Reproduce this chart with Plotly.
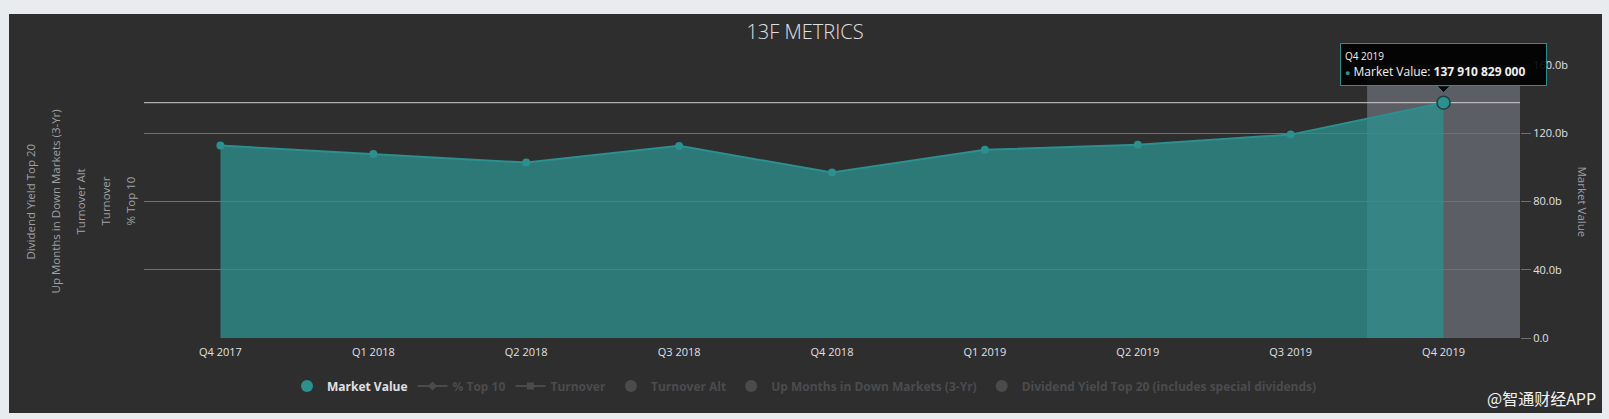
import plotly.graph_objects as go

# ---- data ----
categories = ["Q4 2017", "Q1 2018", "Q2 2018", "Q3 2018", "Q4 2018",
              "Q1 2019", "Q2 2019", "Q3 2019", "Q4 2019"]
market_value = [112.8e9, 107.9e9, 102.8e9, 112.6e9, 97.0e9,
                110.3e9, 113.2e9, 119.2e9, 137910829000]
ytick_vals = [0, 40e9, 80e9, 120e9, 160e9]
ytick_text = ["0.0", "40.0b", "80.0b", "120.0b", "160.0b"]
hidden_series = ["% Top 10", "Turnover", "Turnover Alt",
                 "Up Months in Down Markets (3-Yr)",
                 "Dividend Yield Top 20 (includes special dividends)"]
hidden_modes = ["lines+markers", "lines+markers", "markers", "markers", "markers"]
hidden_symbols = ["diamond", "square", "circle", "circle", "circle"]
left_axis_titles = ["Dividend Yield Top 20", "Up Months in Down Markets (3-Yr)",
                    "Turnover Alt", "Turnover", "% Top 10"]
tooltip_label = "137 910 829 000"

FONT = "Open Sans"
TEAL = "#2b908f"
DARK = "#2e2e2f"
LIGHT = "#e9ecef"
GRID = "#707073"
TXT = "#e0e0e3"
HIDDEN = "#68686b"

fig = go.Figure()

fig.add_trace(go.Scatter(
    x=categories, y=market_value, name="Market Value",
    mode="lines+markers", fill="tozeroy",
    fillcolor="rgba(43,144,143,0.76)",
    line=dict(color=TEAL, width=2),
    marker=dict(color=TEAL, size=8),
    hoverinfo="skip", showlegend=False, legendgroup="mv",
))

# legend entry for Market Value (circle symbol, no drawn points)
fig.add_trace(go.Scatter(
    x=categories, y=[None] * len(categories), name="<b>Market Value</b>",
    mode="markers", marker=dict(color=TEAL, size=12), legendgroup="mv",
    hoverinfo="skip",
))

for name, mode, sym in zip(hidden_series, hidden_modes, hidden_symbols):
    fig.add_trace(go.Scatter(
        x=categories, y=[None] * len(categories),
        name=f"<b><span style='color:{HIDDEN}'>{name}</span></b>",
        mode=mode, visible="legendonly",
        line=dict(color=HIDDEN, width=2),
        marker=dict(color=HIDDEN, size=7 if mode == "lines+markers" else 12, symbol=sym),
    ))

# hovered point
fig.add_trace(go.Scatter(
    x=[categories[-1]], y=[market_value[-1]], mode="markers", showlegend=False,
    marker=dict(color=TEAL, size=13, line=dict(color="#1f3f3f", width=1.5)),
    hoverinfo="skip",
))

shapes = [
    # dark panel
    dict(type="rect", xref="paper", yref="paper",
         x0=(9 - 144) / 1376, x1=(1602 - 144) / 1376,
         y0=(338 - 413) / 273, y1=(338 - 14) / 273,
         fillcolor=DARK, line=dict(width=0), layer="below"),
    # hover band
    dict(type="rect", xref="x", yref="paper", x0=len(categories) - 1.5,
         x1=len(categories) - 0.5, y0=0, y1=1,
         fillcolor="#5b5e65", line=dict(width=0), layer="below"),
    # crosshair
    dict(type="line", xref="paper", yref="y", x0=0, x1=1,
         y0=market_value[-1], y1=market_value[-1],
         line=dict(color="#d0d0d0", width=1), layer="between"),
    # tooltip pointer
    dict(type="path", xref="x", yref="y", xsizemode="pixel", ysizemode="pixel",
         xanchor=len(categories) - 1, yanchor=market_value[-1],
         path="M-7,17 L0,10 L7,17 Z",
         fillcolor="rgba(0,0,0,0.9)", line=dict(color=TEAL, width=1), layer="above"),
]

annotations = []
# left stacked axis titles
for i, t in enumerate(left_axis_titles):
    annotations.append(dict(
        text=t, xref="paper", yref="paper",
        x=(30 + 25 * i - 144) / 1376, y=0.5, showarrow=False,
        textangle=-90, xanchor="center", yanchor="middle",
        font=dict(family=FONT, size=11.5, color="#a0a0a3"),
    ))
# right axis title
annotations.append(dict(
    text="Market Value", xref="paper", yref="paper",
    x=(1582 - 144) / 1376, y=0.5, showarrow=False, textangle=90,
    xanchor="center", yanchor="middle",
    font=dict(family=FONT, size=11.5, color="#a0a0a3"),
))
# tooltip
annotations.append(dict(
    x=categories[-1], y=market_value[-1], xref="x", yref="y",
    showarrow=False, xanchor="center", yanchor="bottom", yshift=17,
    text=(f"<span style='font-size:10px'>{categories[-1]}</span><br>"
          f"<span style='color:{TEAL};font-size:9px'>●</span> Market Value: "
          f"<b>{tooltip_label}</b>"),
    align="left", valign="middle", width=197, height=33,
    bgcolor="rgba(0,0,0,0.9)", bordercolor=TEAL, borderwidth=1, borderpad=4,
    font=dict(family=FONT, size=12, color="#f0f0f0"),
))
# watermark
annotations.append(dict(
    text="@智通财经APP", xref="paper", yref="paper",
    x=(1598 - 144) / 1376, y=(338 - 398) / 273, showarrow=False,
    xanchor="right", yanchor="middle",
    font=dict(family="Noto Sans CJK SC", size=16, color="#f2f2f2"),
))

fig.update_layout(
    width=1609, height=419,
    margin=dict(l=144, r=89, t=65, b=81, pad=0),
    paper_bgcolor=LIGHT, plot_bgcolor="rgba(0,0,0,0)",
    title=dict(text="13F METRICS", x=805 / 1609, xanchor="center",
               y=1 - 32 / 419, yanchor="middle",
               font=dict(family=FONT, size=20, color=TXT, weight=300)),
    showlegend=True,
    legend=dict(orientation="h", xref="container", yref="container",
                x=0.5, xanchor="center", y=1 - 386 / 419, yanchor="middle",
                font=dict(family=FONT, size=12, color=TXT),
                itemwidth=30, bgcolor="rgba(0,0,0,0)", itemclick=False,
                itemdoubleclick=False),
    xaxis=dict(type="category", range=[-0.5, len(categories) - 0.5],
               showgrid=False, showline=False, zeroline=False,
               ticks="", ticklabelstandoff=6,
               tickfont=dict(family=FONT, size=11, color=TXT),
               fixedrange=True),
    yaxis=dict(side="right", range=[0, 160e9], tickvals=ytick_vals,
               ticktext=ytick_text, showgrid=True, gridcolor=GRID, gridwidth=1,
               zeroline=False, showline=False, ticks="outside", ticklen=10,
               tickcolor=GRID, tickfont=dict(family=FONT, size=11, color=TXT),
               fixedrange=True),
    shapes=shapes, annotations=annotations,
    hovermode=False,
)

fig.write_html("out.html", config={"displayModeBar": False},
               post_script="document.body.style.margin='0';")
